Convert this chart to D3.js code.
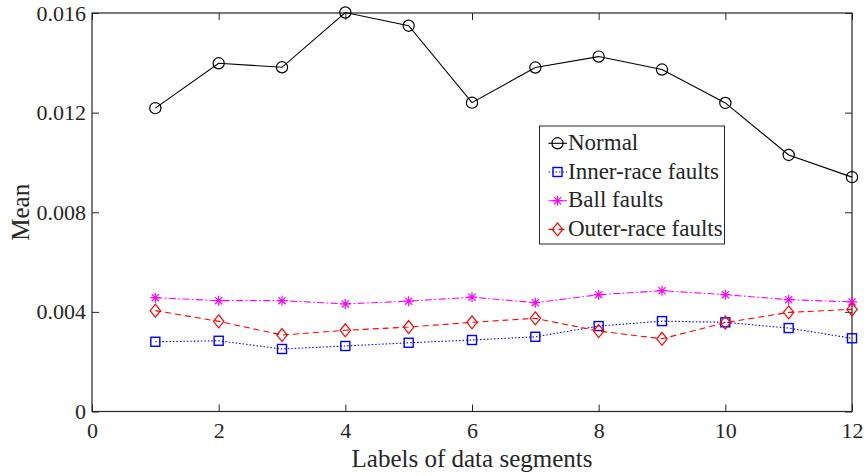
<!DOCTYPE html>
<html>
<head>
<meta charset="utf-8">
<script src="https://cdn.jsdelivr.net/npm/d3@7"></script>
<style>
  html, body { margin: 0; padding: 0; background: #fff; }
</style>
</head>
<body>
<svg id="chart" width="867" height="476"></svg>
<script>
// Mean value of each data segment for the four bearing conditions
const segments = [1, 2, 3, 4, 5, 6, 7, 8, 9, 10, 11, 12];
const normal = [0.01218, 0.01398, 0.01382, 0.01602, 0.01549, 0.01240, 0.01381, 0.01425, 0.01373, 0.01239, 0.01030, 0.00941];
const innerRace = [0.00280, 0.00284, 0.00251, 0.00263, 0.00276, 0.00287, 0.00300, 0.00343, 0.00363, 0.00358, 0.00335, 0.00294];
const ballFault = [0.00457, 0.00445, 0.00445, 0.00432, 0.00443, 0.00459, 0.00437, 0.00469, 0.00485, 0.00469, 0.00449, 0.00440];
const outerRace = [0.00405, 0.00362, 0.00307, 0.00326, 0.00339, 0.00358, 0.00374, 0.00323, 0.00292, 0.00357, 0.00398, 0.00410];
const xTicks = [0, 2, 4, 6, 8, 10, 12];
const yTicks = [0, 0.004, 0.008, 0.012, 0.016];
const yTickLabels = ["0", "0.004", "0.008", "0.012", "0.016"];

const series = [
  { name: "Normal", values: normal, color: "#000000", dash: null, marker: "circle" },
  { name: "Inner-race faults", values: innerRace, color: "#0000ff", dash: "1.5,2", marker: "square" },
  { name: "Ball faults", values: ballFault, color: "#ff00ff", dash: "7,2.5,1.5,2.5", marker: "asterisk" },
  { name: "Outer-race faults", values: outerRace, color: "#ff0000", dash: "6,4", marker: "diamond" }
];

const FONT = "'Liberation Serif', 'Times New Roman', serif";
const svg = d3.select("#chart");
const plot = { left: 92, right: 852, top: 13, bottom: 411.5 };

const x = d3.scaleLinear().domain([0, 12]).range([plot.left, plot.right]);
const y = d3.scaleLinear().domain([0, 0.016]).range([plot.bottom, plot.top]);

const tickLen = 7;
const axisColor = "#262626";

// Box with inward ticks on all four sides
const axisG = svg.append("g");
function styleAxis(g) {
  g.select(".domain").remove();
  g.selectAll(".tick line").attr("stroke", axisColor).attr("stroke-width", 1);
  g.selectAll(".tick text").attr("fill", axisColor)
    .style("font-family", FONT).style("font-size", "22px");
}
axisG.append("g").attr("transform", `translate(0,${plot.bottom})`)
  .call(d3.axisBottom(x).tickValues(xTicks).tickSizeInner(-tickLen).tickSizeOuter(0).tickPadding(10.5).tickFormat(d3.format("d")))
  .call(styleAxis);
axisG.append("g").attr("transform", `translate(0,${plot.top})`)
  .call(d3.axisTop(x).tickValues(xTicks).tickSizeInner(-tickLen).tickSizeOuter(0).tickFormat(""))
  .call(styleAxis);
axisG.append("g").attr("transform", `translate(${plot.left},0)`)
  .call(d3.axisLeft(y).tickValues(yTicks).tickSizeInner(-tickLen).tickSizeOuter(0).tickPadding(6)
    .tickFormat((d, i) => yTickLabels[i]))
  .call(styleAxis);
axisG.append("g").attr("transform", `translate(${plot.right},0)`)
  .call(d3.axisRight(y).tickValues(yTicks).tickSizeInner(-tickLen).tickSizeOuter(0).tickFormat(""))
  .call(styleAxis);
axisG.append("rect")
  .attr("x", plot.left).attr("y", plot.top)
  .attr("width", plot.right - plot.left).attr("height", plot.bottom - plot.top)
  .attr("fill", "none").attr("stroke", axisColor).attr("stroke-width", 1.2);

// Axis titles
svg.append("text")
  .attr("x", (plot.left + plot.right) / 2).attr("y", 466.5)
  .attr("text-anchor", "middle").attr("fill", axisColor)
  .style("font-family", FONT).style("font-size", "25px")
  .text("Labels of data segments");
svg.append("text")
  .attr("transform", `translate(29,${(plot.top + plot.bottom) / 2}) rotate(-90)`)
  .attr("text-anchor", "middle").attr("fill", axisColor)
  .style("font-family", FONT).style("font-size", "25px")
  .text("Mean");

// Marker shapes
function drawMarker(g, type, cx, cy, color) {
  if (type === "circle") {
    g.append("circle").attr("cx", cx).attr("cy", cy).attr("r", 5.6)
      .attr("fill", "none").attr("stroke", color).attr("stroke-width", 1.2);
  } else if (type === "square") {
    g.append("rect").attr("x", cx - 4.5).attr("y", cy - 4.5).attr("width", 9).attr("height", 9)
      .attr("fill", "none").attr("stroke", color).attr("stroke-width", 1.4);
  } else if (type === "diamond") {
    const s = 6.5;
    g.append("path").attr("d", `M${cx},${cy - s}L${cx + s * 0.8},${cy}L${cx},${cy + s}L${cx - s * 0.8},${cy}Z`)
      .attr("fill", "none").attr("stroke", color).attr("stroke-width", 1.2);
  } else if (type === "asterisk") {
    const s = 5;
    const d = s * 0.72;
    g.append("path")
      .attr("d", `M${cx - s},${cy}L${cx + s},${cy}M${cx},${cy - s}L${cx},${cy + s}` +
                 `M${cx - d},${cy - d}L${cx + d},${cy + d}M${cx - d},${cy + d}L${cx + d},${cy - d}`)
      .attr("fill", "none").attr("stroke", color).attr("stroke-width", 1.2);
  }
}

const line = d3.line().x((d, i) => x(segments[i])).y(d => y(d));

const dataG = svg.append("g");
series.forEach(s => {
  dataG.append("path")
    .datum(s.values)
    .attr("d", line)
    .attr("fill", "none")
    .attr("stroke", s.color)
    .attr("stroke-width", 1.1)
    .attr("stroke-dasharray", s.dash);
  const mg = dataG.append("g");
  s.values.forEach((v, i) => drawMarker(mg, s.marker, x(segments[i]), y(v), s.color));
});

// Legend
const legend = { x: 539.5, y: 126, w: 185, h: 118 };
const lg = svg.append("g");
lg.append("rect")
  .attr("x", legend.x).attr("y", legend.y).attr("width", legend.w).attr("height", legend.h)
  .attr("fill", "#fff").attr("stroke", axisColor).attr("stroke-width", 1);
series.forEach((s, i) => {
  const cy = legend.y + 17.3 + i * 28.7;
  lg.append("line")
    .attr("x1", legend.x + 9).attr("x2", legend.x + 27.5)
    .attr("y1", cy).attr("y2", cy)
    .attr("stroke", s.color).attr("stroke-width", 1.1)
    .attr("stroke-dasharray", s.dash);
  drawMarker(lg, s.marker, legend.x + 18, cy, s.color);
  lg.append("text")
    .attr("x", legend.x + 28.5).attr("y", cy + 6.5)
    .attr("fill", axisColor)
    .style("font-family", FONT).style("font-size", "23px")
    .text(s.name);
});
</script>
</body>
</html>
